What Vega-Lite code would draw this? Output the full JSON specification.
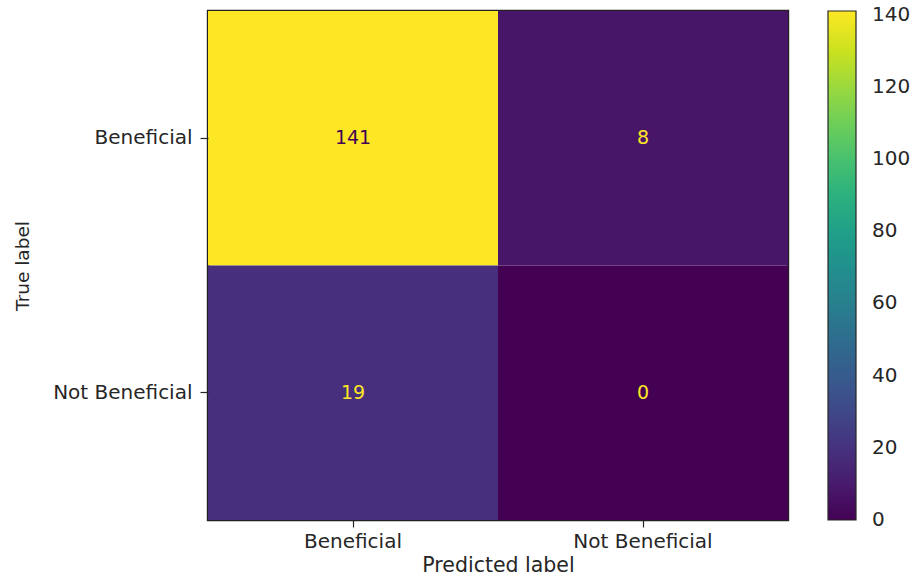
{
  "$schema": "https://vega.github.io/schema/vega-lite/v6.json",
  "autosize": "none",
  "padding": {"left": 208, "top": 11, "right": 122, "bottom": 60},
  "width": 580,
  "height": 509,
  "background": "white",
  "config": {
    "font": "DejaVu Sans",
    "view": {"stroke": "#222222", "strokeWidth": 2.4}
  },
  "data": {
    "values": [
      {"true": "Beneficial", "pred": "Beneficial", "count": 141},
      {"true": "Beneficial", "pred": "Not Beneficial", "count": 8},
      {"true": "Not Beneficial", "pred": "Beneficial", "count": 19},
      {"true": "Not Beneficial", "pred": "Not Beneficial", "count": 0}
    ]
  },
  "encoding": {
    "x": {
      "field": "pred", "type": "nominal", "sort": ["Beneficial", "Not Beneficial"],
      "title": "Predicted label",
      "scale": {"paddingInner": 0, "paddingOuter": 0},
      "axis": {"labelAngle": 0, "labelFontSize": 20, "titleFontSize": 20.5, "labelColor": "#262626", "titleColor": "#262626", "domain": false, "tickColor": "#262626", "tickSize": 7, "tickWidth": 1.2, "labelPadding": 4, "titlePadding": 4, "titleFontWeight": "normal"}
    },
    "y": {
      "field": "true", "type": "nominal", "sort": ["Beneficial", "Not Beneficial"],
      "title": "True label",
      "scale": {"paddingInner": 0, "paddingOuter": 0},
      "axis": {"labelFontSize": 20, "titleFontSize": 18.5, "labelColor": "#262626", "titleColor": "#262626", "domain": false, "tickColor": "#262626", "tickSize": 8, "tickWidth": 1.2, "labelPadding": 8, "titlePadding": 20, "titleFontWeight": "normal"}
    }
  },
  "layer": [
    {
      "mark": {"type": "rect"},
      "encoding": {
        "color": {
          "field": "count", "type": "quantitative",
          "scale": {"scheme": "viridis", "domain": [0, 141]},
          "legend": {
            "orient": "none", "legendX": 620, "legendY": 0, "title": null,
            "direction": "vertical", "gradientLength": 509, "gradientThickness": 28,
            "gradientStrokeColor": "#262626", "gradientStrokeWidth": 1.2,
            "values": [0, 20, 40, 60, 80, 100, 120, 140],
            "labelFontSize": 20, "labelColor": "#262626", "labelOffset": 16,
            "labelBaseline": "middle", "labelOverlap": false,
            "encode": {"labels": {"update": {"baseline": {"value": "middle"}}}}
          }
        }
      }
    },
    {
      "mark": {"type": "text", "fontSize": 19},
      "encoding": {
        "text": {"field": "count", "type": "quantitative"},
        "color": {
          "condition": {"test": "datum.count > 70.5", "value": "#440154"},
          "value": "#fde725"
        }
      }
    }
  ]
}
